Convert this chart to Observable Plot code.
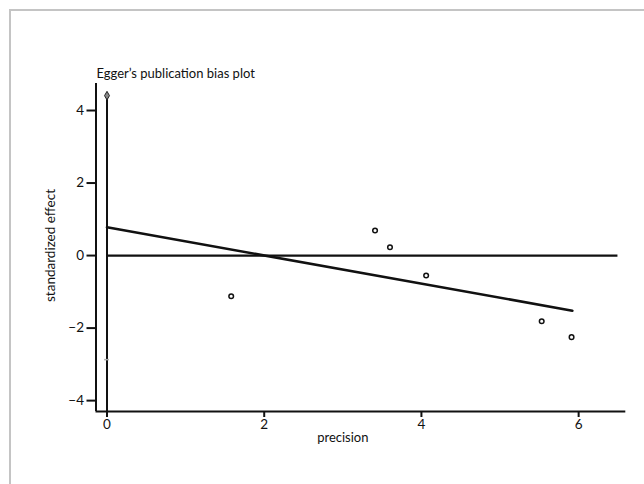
<!DOCTYPE html>
<html>
<head>
<meta charset="utf-8">
<script src="https://cdn.jsdelivr.net/npm/d3@7"></script>
<script src="https://cdn.jsdelivr.net/npm/@observablehq/plot@0.6"></script>
<style>
  html, body { margin: 0; padding: 0; background: #fff; overflow: hidden; }
  #wrap { position: relative; width: 644px; height: 484px; }
  #border { position: absolute; left: 9px; top: 9px; width: 700px; height: 600px;
            border-top: 2px solid #c4c4c4; border-left: 2px solid #c4c4c4; pointer-events: none; }
</style>
</head>
<body>
<div id="wrap"><div id="border"></div></div>
<script>
// Data
const precision = [1.58, 3.41, 3.60, 4.06, 5.53, 5.91];
const effect    = [-1.12, 0.69, 0.23, -0.55, -1.81, -2.25];
const regX = [0, 5.92];
const regY = [0.78, -1.52];
const ciUpper = 4.41;
const ciLower = -2.87;
const zeroLineEnd = 6.5;
const xTicks = [0, 2, 4, 6];
const yTicks = [-4, -2, 0, 2, 4];
const xDomain = [-0.14, 6.6];
const yDomain = [-4.3, 4.745];
const titleText = "Egger’s publication bias plot";
const xLabel = "precision";
const yLabel = "standardized effect";

const points = precision.map((p, i) => ({x: p, y: effect[i]}));
const reg = regX.map((x, i) => ({x, y: regY[i]}));
const fmt = d => d3.format("d")(d).replace("-", "−");

const chart = Plot.plot({
  width: 644,
  height: 484,
  marginLeft: 95.5,
  marginRight: 18.7,
  marginTop: 83,
  marginBottom: 73,
  style: {fontFamily: "Lato, 'Open Sans', sans-serif", fontSize: "13px", background: "transparent", color: "#111"},
  x: {domain: xDomain},
  y: {domain: yDomain},
  marks: [
    // spines
    Plot.ruleX([xDomain[0]], {y1: yDomain[0], y2: yDomain[1], stroke: "#111", strokeWidth: 2}),
    Plot.ruleY([yDomain[0]], {x1: xDomain[0], x2: xDomain[1], stroke: "#111", strokeWidth: 2}),
    // vertical line at x = 0 up to upper limit
    Plot.ruleX([0], {y1: yDomain[0], y2: ciUpper, stroke: "#111", strokeWidth: 2}),
    // horizontal zero line
    Plot.ruleY([0], {x1: 0, x2: zeroLineEnd, stroke: "#111", strokeWidth: 2.3}),
    // lower mark
    Plot.ruleY([ciLower], {x1: -0.03, x2: 0.03, stroke: "#aaa", strokeWidth: 1.5}),
    // regression line
    Plot.line(reg, {x: "x", y: "y", stroke: "#111", strokeWidth: 2.6}),
    // points
    Plot.dot(points, {x: "x", y: "y", r: 2.3, stroke: "#111", strokeWidth: 1.5, fill: "#fff"}),
    // upper diamond
    Plot.dot([ciUpper], {x: 0, y: d => d, symbol: "diamond", r: 2.6, fill: "#888", stroke: "#222", strokeWidth: 1}),
    // axes
    Plot.axisY({ticks: yTicks, tickSize: 9, tickPadding: 3, strokeWidth: 2, stroke: "#111", label: null, tickFormat: fmt, fontSize: 13.5}),
    Plot.axisX({ticks: xTicks, tickSize: 6, tickPadding: 2, strokeWidth: 2, stroke: "#111", label: null, tickFormat: fmt, fontSize: 13.5}),
    // axis labels and title
    Plot.text([xLabel], {text: d => d, x: d3.mean(d3.extent(xTicks)), frameAnchor: "bottom", dy: 30, fontSize: 13, fill: "#111"}),
    Plot.text([yLabel], {text: d => d, frameAnchor: "left", textAnchor: "middle", dx: -45.5, dy: -2, rotate: -90, fontSize: 13.5, fill: "#111"}),
    Plot.text([titleText], {text: d => d, frameAnchor: "top-left", textAnchor: "start", dx: 0.5, dy: -15, fontSize: 13, fill: "#111"})
  ]
});
document.getElementById("wrap").prepend(chart);
</script>
</body>
</html>
